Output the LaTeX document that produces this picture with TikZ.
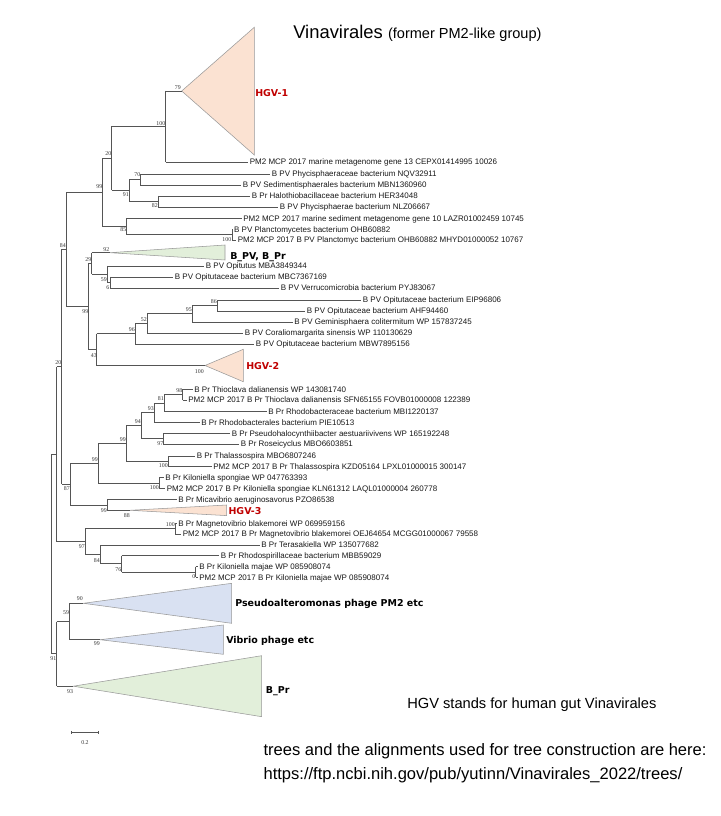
\documentclass[tikz,border=0pt]{standalone}
\usepackage{fontspec}
\setmainfont{Liberation Sans}
\newfontfamily\bsfont{Liberation Serif}
\newfontfamily\grpfont{DejaVu Sans}
\definecolor{peach}{HTML}{FBE2D2}
\definecolor{pgreen}{HTML}{E2EFDA}
\definecolor{pblue}{HTML}{D9E1F2}
\definecolor{hgvred}{HTML}{C00000}
\definecolor{brc}{HTML}{555555}
\newcommand\lf[5]{%
  \coordinate (#2) at (#3,#4);
  \draw[br] (#1 |- #2) -- (#2);
  \node[leaf] (#2t) at (#2) {#5};}
\newcommand\vl[3]{\draw[br] (#1 |- #2) -- (#1 |- #3);}
\newcommand\hb[2]{\draw[br] (#1 |- #2) -- (#2);}
\begin{document}
\begin{tikzpicture}[x=0.75pt,y=-0.75pt,
  br/.style={draw=brc, line width=0.55pt},
  tri/.style={draw=black!40, line width=0.4pt},
  leaf/.style={anchor=base west, inner sep=0pt, xshift=1.2pt, yshift=-2.15pt, font=\fontsize{6}{7}\selectfont, text=black!90},
  bs/.style={anchor=base east, inner sep=0pt, yshift=-1.5pt, font=\bsfont\fontsize{4.4}{5}\selectfont, text=black!80},
  grp/.style={anchor=base west, inner sep=0pt, yshift=-2.6pt, font=\grpfont\bfseries\fontsize{7.1}{8}\selectfont},
  note/.style={anchor=base west, inner sep=0pt}]
\useasboundingbox (0,0) rectangle (720,816);
\fill[white] (0,0) rectangle (720,816);
% internal nodes
\coordinate (J) at (51,554);
\coordinate (K) at (56.7,454.2);
\coordinate (n20) at (61.7,366.8);
\coordinate (n84) at (66,249.5);
\coordinate (n99t) at (102.7,192.6);
\coordinate (n20a) at (111.7,158.5);
\coordinate (n100a) at (165.7,126.5);
\coordinate (h1) at (181.7,91);
\coordinate (n91a) at (129.3,190.5);
\coordinate (n70) at (140,179.5);
\coordinate (n82) at (158.3,201.5);
\coordinate (n85) at (126.7,226.6);
\coordinate (nPl) at (232,234.75);
\coordinate (n99m) at (88.5,306.5);
\coordinate (n29) at (91.7,263.5);
\coordinate (gA) at (110,252.7);
\coordinate (n59) at (107.3,274.25);
\coordinate (n6) at (110,282.5);
\coordinate (n43) at (96.7,349.6);
\coordinate (n96) at (135,333.7);
\coordinate (n52) at (147,323.4);
\coordinate (n95) at (192,313.75);
\coordinate (n86) at (217,305.5);
\coordinate (h2) at (205,365.5);
\coordinate (n87) at (70,484.1);
\coordinate (nD) at (98.3,463.2);
\coordinate (nA) at (126,443.5);
\coordinate (nB) at (141,425.7);
\coordinate (nC) at (154,412.7);
\coordinate (n81) at (164.3,403.1);
\coordinate (n98) at (182.7,394.7);
\coordinate (n97a) at (163.3,438.7);
\coordinate (nTh) at (168.3,461.2);
\coordinate (nKs) at (159.3,482.9);
\coordinate (nE) at (107.3,505);
\coordinate (h3) at (130,510.3);
\coordinate (nG) at (85,541.6);
\coordinate (nMg) at (175,528.7);
\coordinate (nI) at (100,554.4);
\coordinate (nH) at (121.7,563.85);
\coordinate (nKm) at (195.7,572);
\coordinate (n91) at (56.7,653.8);
\coordinate (n59b) at (69.3,621.5);
\coordinate (pA) at (83.3,603.3);
\coordinate (vA) at (100,639.7);
\coordinate (bA) at (73.3,686.2);
% collapsed clades
\filldraw[tri, fill=peach] (h1) -- (254.3,27.3) -- (254.3,155) -- cycle;
\filldraw[tri, fill=pgreen] (gA) -- (225,245) -- (225,260) -- cycle;
\filldraw[tri, fill=peach] (h2) -- (243.3,349.3) -- (243.3,381.7) -- cycle;
\filldraw[tri, fill=peach] (h3) -- (226.7,505) -- (226.7,515.6) -- cycle;
\filldraw[tri, fill=pblue] (pA) -- (231.7,583.3) -- (231.7,623.3) -- cycle;
\filldraw[tri, fill=pblue] (vA) -- (223.3,625) -- (223.3,654.3) -- cycle;
\filldraw[tri, fill=pgreen] (bA) -- (261.7,655.7) -- (261.7,716.7) -- cycle;
% leaves
\lf{n100a}{lCEPX}{248}{162}{PM2 MCP 2017 marine metagenome gene 13 CEPX01414995 10026}
\lf{n70}{lNQV}{270}{174}{B PV Phycisphaeraceae bacterium NQV32911}
\lf{n70}{lMBN}{241}{185}{B PV Sedimentisphaerales bacterium MBN1360960}
\lf{n82}{lHER}{250}{196}{B Pr Halothiobacillaceae bacterium HER34048}
\lf{n82}{lNLZ}{278}{207}{B PV Phycisphaerae bacterium NLZ06667}
\lf{n85}{lLAZR}{241.5}{218.5}{PM2 MCP 2017 marine sediment metagenome gene 10 LAZR01002459 10745}
\lf{nPl}{lOHB}{232.3}{229.5}{B PV Planctomycetes bacterium OHB60882}
\lf{nPl}{lPMpl}{236}{240}{PM2 MCP 2017 B PV Planctomyc bacterium OHB60882 MHYD01000052 10767}
\lf{n59}{lOpi}{204}{266}{B PV Opitutus MBA3849344}
\lf{n6}{lMBC}{173}{277}{B PV Opitutaceae bacterium MBC7367169}
\lf{n6}{lPYJ}{279}{288}{B PV Verrucomicrobia bacterium PYJ83067}
\lf{n86}{lEIP}{361}{300}{B PV Opitutaceae bacterium EIP96806}
\lf{n86}{lAHF}{305}{311}{B PV Opitutaceae bacterium AHF94460}
\lf{n95}{lGem}{292.5}{322}{B PV Geminisphaera colitermitum WP 157837245}
\lf{n52}{lCor}{243}{333}{B PV Coraliomargarita sinensis WP 110130629}
\lf{n96}{lMBW}{254}{344}{B PV Opitutaceae bacterium MBW7895156}
\lf{n98}{lTh1}{192.5}{389.3}{B Pr Thioclava dalianensis WP 143081740}
\lf{n98}{lTh2}{186.5}{400}{PM2 MCP 2017 B Pr Thioclava dalianensis SFN65155 FOVB01000008 122389}
\lf{n81}{lMBI}{266.5}{411.5}{B Pr Rhodobacteraceae bacterium MBI1220137}
\lf{nC}{lPIE}{199.5}{422.3}{B Pr Rhodobacterales bacterium PIE10513}
\lf{n97a}{lPse}{230}{433.3}{B Pr Pseudohalocynthiibacter aestuariivivens WP 165192248}
\lf{n97a}{lRos}{239}{444}{B Pr Roseicyclus MBO6603851}
\lf{nTh}{lTs1}{195}{456}{B Pr Thalassospira MBO6807246}
\lf{nTh}{lTs2}{211.5}{466.5}{PM2 MCP 2017 B Pr Thalassospira KZD05164 LPXL01000015 300147}
\lf{nKs}{lKs1}{163.5}{477.5}{B Pr Kiloniella spongiae WP 047763393}
\lf{nKs}{lKs2}{165}{488.3}{PM2 MCP 2017 B Pr Kiloniella spongiae KLN61312 LAQL01000004 260778}
\lf{nE}{lMic}{176.5}{499.7}{B Pr Micavibrio aeruginosavorus PZO86538}
\lf{nMg}{lMg1}{176.5}{523.3}{B Pr Magnetovibrio blakemorei WP 069959156}
\lf{nMg}{lMg2}{181}{534}{PM2 MCP 2017 B Pr Magnetovibrio blakemorei OEJ64654 MCGG01000067 79558}
\lf{nI}{lTer}{259.5}{545}{B Pr Terasakiella WP 135077682}
\lf{nH}{lRsp}{219}{555.7}{B Pr Rhodospirillaceae bacterium MBB59029}
\lf{nKm}{lKm1}{197.5}{566.7}{B Pr Kiloniella majae WP 085908074}
\lf{nKm}{lKm2}{197.5}{577.3}{PM2 MCP 2017 B Pr Kiloniella majae WP 085908074}
% verticals
\vl{J}{K}{n91}\vl{K}{n20}{nG}\vl{n20}{n84}{n87}\vl{n84}{n99t}{n99m}
\vl{n99t}{n20a}{n85}\vl{n20a}{n100a}{n91a}\vl{n100a}{h1}{lCEPX}
\vl{n91a}{n70}{n82}\vl{n70}{lNQV}{lMBN}\vl{n82}{lHER}{lNLZ}
\vl{n85}{lLAZR}{nPl}\vl{nPl}{lOHB}{lPMpl}
\vl{n99m}{n29}{n43}\vl{n29}{gA}{n59}\vl{n59}{lOpi}{n6}\vl{n6}{lMBC}{lPYJ}
\vl{n43}{n96}{h2}\vl{n96}{n52}{lMBW}\vl{n52}{n95}{lCor}\vl{n95}{n86}{lGem}\vl{n86}{lEIP}{lAHF}
\vl{n87}{nD}{nE}\vl{nD}{nA}{nKs}\vl{nA}{nB}{nTh}\vl{nB}{nC}{n97a}\vl{nC}{n81}{lPIE}
\vl{n81}{n98}{lMBI}\vl{n98}{lTh1}{lTh2}\vl{n97a}{lPse}{lRos}\vl{nTh}{lTs1}{lTs2}
\vl{nKs}{lKs1}{lKs2}\vl{nE}{lMic}{h3}
\vl{nG}{nMg}{nI}\vl{nMg}{lMg1}{lMg2}\vl{nI}{lTer}{nH}\vl{nH}{lRsp}{nKm}\vl{nKm}{lKm1}{lKm2}
\vl{n91}{n59b}{bA}\vl{n59b}{pA}{vA}
% branches
\hb{J}{K}\hb{J}{n91}\hb{K}{n20}\hb{K}{nG}\hb{n20}{n84}\hb{n20}{n87}
\hb{n84}{n99t}\hb{n84}{n99m}\hb{n99t}{n20a}\hb{n99t}{n85}
\hb{n20a}{n100a}\hb{n20a}{n91a}\hb{n100a}{h1}\hb{n91a}{n70}\hb{n91a}{n82}\hb{n85}{nPl}
\hb{n99m}{n29}\hb{n99m}{n43}\hb{n29}{gA}\hb{n29}{n59}\hb{n59}{n6}
\hb{n43}{n96}\hb{n43}{h2}\hb{n96}{n52}\hb{n52}{n95}\hb{n95}{n86}
\hb{n87}{nD}\hb{n87}{nE}\hb{nD}{nA}\hb{nD}{nKs}\hb{nA}{nB}\hb{nA}{nTh}
\hb{nB}{nC}\hb{nB}{n97a}\hb{nC}{n81}\hb{n81}{n98}\hb{nE}{h3}
\hb{nG}{nMg}\hb{nG}{nI}\hb{nI}{nH}\hb{nH}{nKm}
\hb{n91}{n59b}\hb{n91}{bA}\hb{n59b}{pA}\hb{n59b}{vA}
% bootstrap values
\node[bs] (b1) at (181,88) {79};
\node[bs] (b2) at (165.5,123.3) {100};
\node[bs] (b3) at (111.5,154) {20};
\node[bs] (b4) at (102.5,187) {99};
\node[bs] (b5) at (140.5,174.3) {70};
\node[bs] (b6) at (129,194.3) {91};
\node[bs] (b7) at (158,205.7) {82};
\node[bs] (b8) at (126.5,229.3) {85};
\node[bs] (b9) at (231.5,239.5) {100};
\node[bs] (b10) at (66,246) {84};
\node[bs] (b11) at (109.5,249.3) {92};
\node[bs] (b12) at (91.5,260) {29};
\node[bs] (b13) at (107,279.3) {59};
\node[bs] (b14) at (109.5,287.7) {6};
\node[bs] (b15) at (88.5,311.7) {99};
\node[bs] (b16) at (217,301.7) {86};
\node[bs] (b17) at (192,309.3) {95};
\node[bs] (b18) at (147,319.3) {52};
\node[bs] (b19) at (135,329.3) {96};
\node[bs] (b20) at (97,355) {43};
\node[bs] (b21) at (204,371) {100};
\node[bs] (b22) at (61.5,362.7) {20};
\node[bs] (b23) at (182.5,390) {98};
\node[bs] (b24) at (164,398.3) {81};
\node[bs] (b25) at (154,408.3) {93};
\node[bs] (b26) at (141,421.7) {94};
\node[bs] (b27) at (126,439.3) {99};
\node[bs] (b28) at (163.5,443.5) {97};
\node[bs] (b29) at (168,465.7) {100};
\node[bs] (b30) at (98,459.3) {99};
\node[bs] (b31) at (159,487.3) {100};
\node[bs] (b32) at (70,488.3) {87};
\node[bs] (b33) at (107,510) {99};
\node[bs] (b34) at (130,515.7) {88};
\node[bs] (b35) at (175,524.3) {100};
\node[bs] (b36) at (85,546) {97};
\node[bs] (b37) at (100,560.7) {84};
\node[bs] (b38) at (121.5,569) {76};
\node[bs] (b39) at (195.5,576.7) {0};
\node[bs] (b40) at (83,598.3) {90};
\node[bs] (b41) at (69.3,612.7) {59};
\node[bs] (b42) at (100,643.3) {99};
\node[bs] (b43) at (56.5,658) {91};
\node[bs] (b44) at (73.3,691.7) {93};
% group labels
\node[grp, text=hgvred] (g1) at (255,92.7) {HGV-1};
\node[grp] (g2) at (230,256) {B\_PV, B\_Pr};
\node[grp, text=hgvred] (g3) at (246,366) {HGV-2};
\node[grp, text=hgvred] (g4) at (228.3,511) {HGV-3};
\node[grp] (g5) at (235,603.5) {Pseudoalteromonas phage PM2 etc};
\node[grp] (g6) at (226,640) {Vibrio phage etc};
\node[grp] (g7) at (265.7,690) {B\_Pr};
% scale bar
\coordinate (s1) at (71.7,732.3);
\coordinate (s2) at (98.3,732.3);
\draw[br] (s1) -- (s2);
\draw[br] ([yshift=1pt]s1) -- ([yshift=-1pt]s1);
\draw[br] ([yshift=1pt]s2) -- ([yshift=-1pt]s2);
\node[bs, anchor=base] (sl) at (85,742) {0.2};
% titles and notes
\node[note] (title) at (293,39) {\fontsize{13.8}{16}\selectfont Vinavirales \fontsize{10.9}{13}\selectfont(former PM2-like group)};
\node[note] (hgvnote) at (407,708) {\fontsize{11}{13}\selectfont HGV stands for human gut Vinavirales};
\node[note] (trees1) at (263.3,755) {\fontsize{12.4}{14}\selectfont trees and the alignments used for tree construction are here:};
\node[note] (trees2) at (263.3,779) {\fontsize{12.4}{14}\selectfont https://ftp.ncbi.nih.gov/pub/yutinn/Vinavirales\_2022/trees/};
\end{tikzpicture}
\end{document}
